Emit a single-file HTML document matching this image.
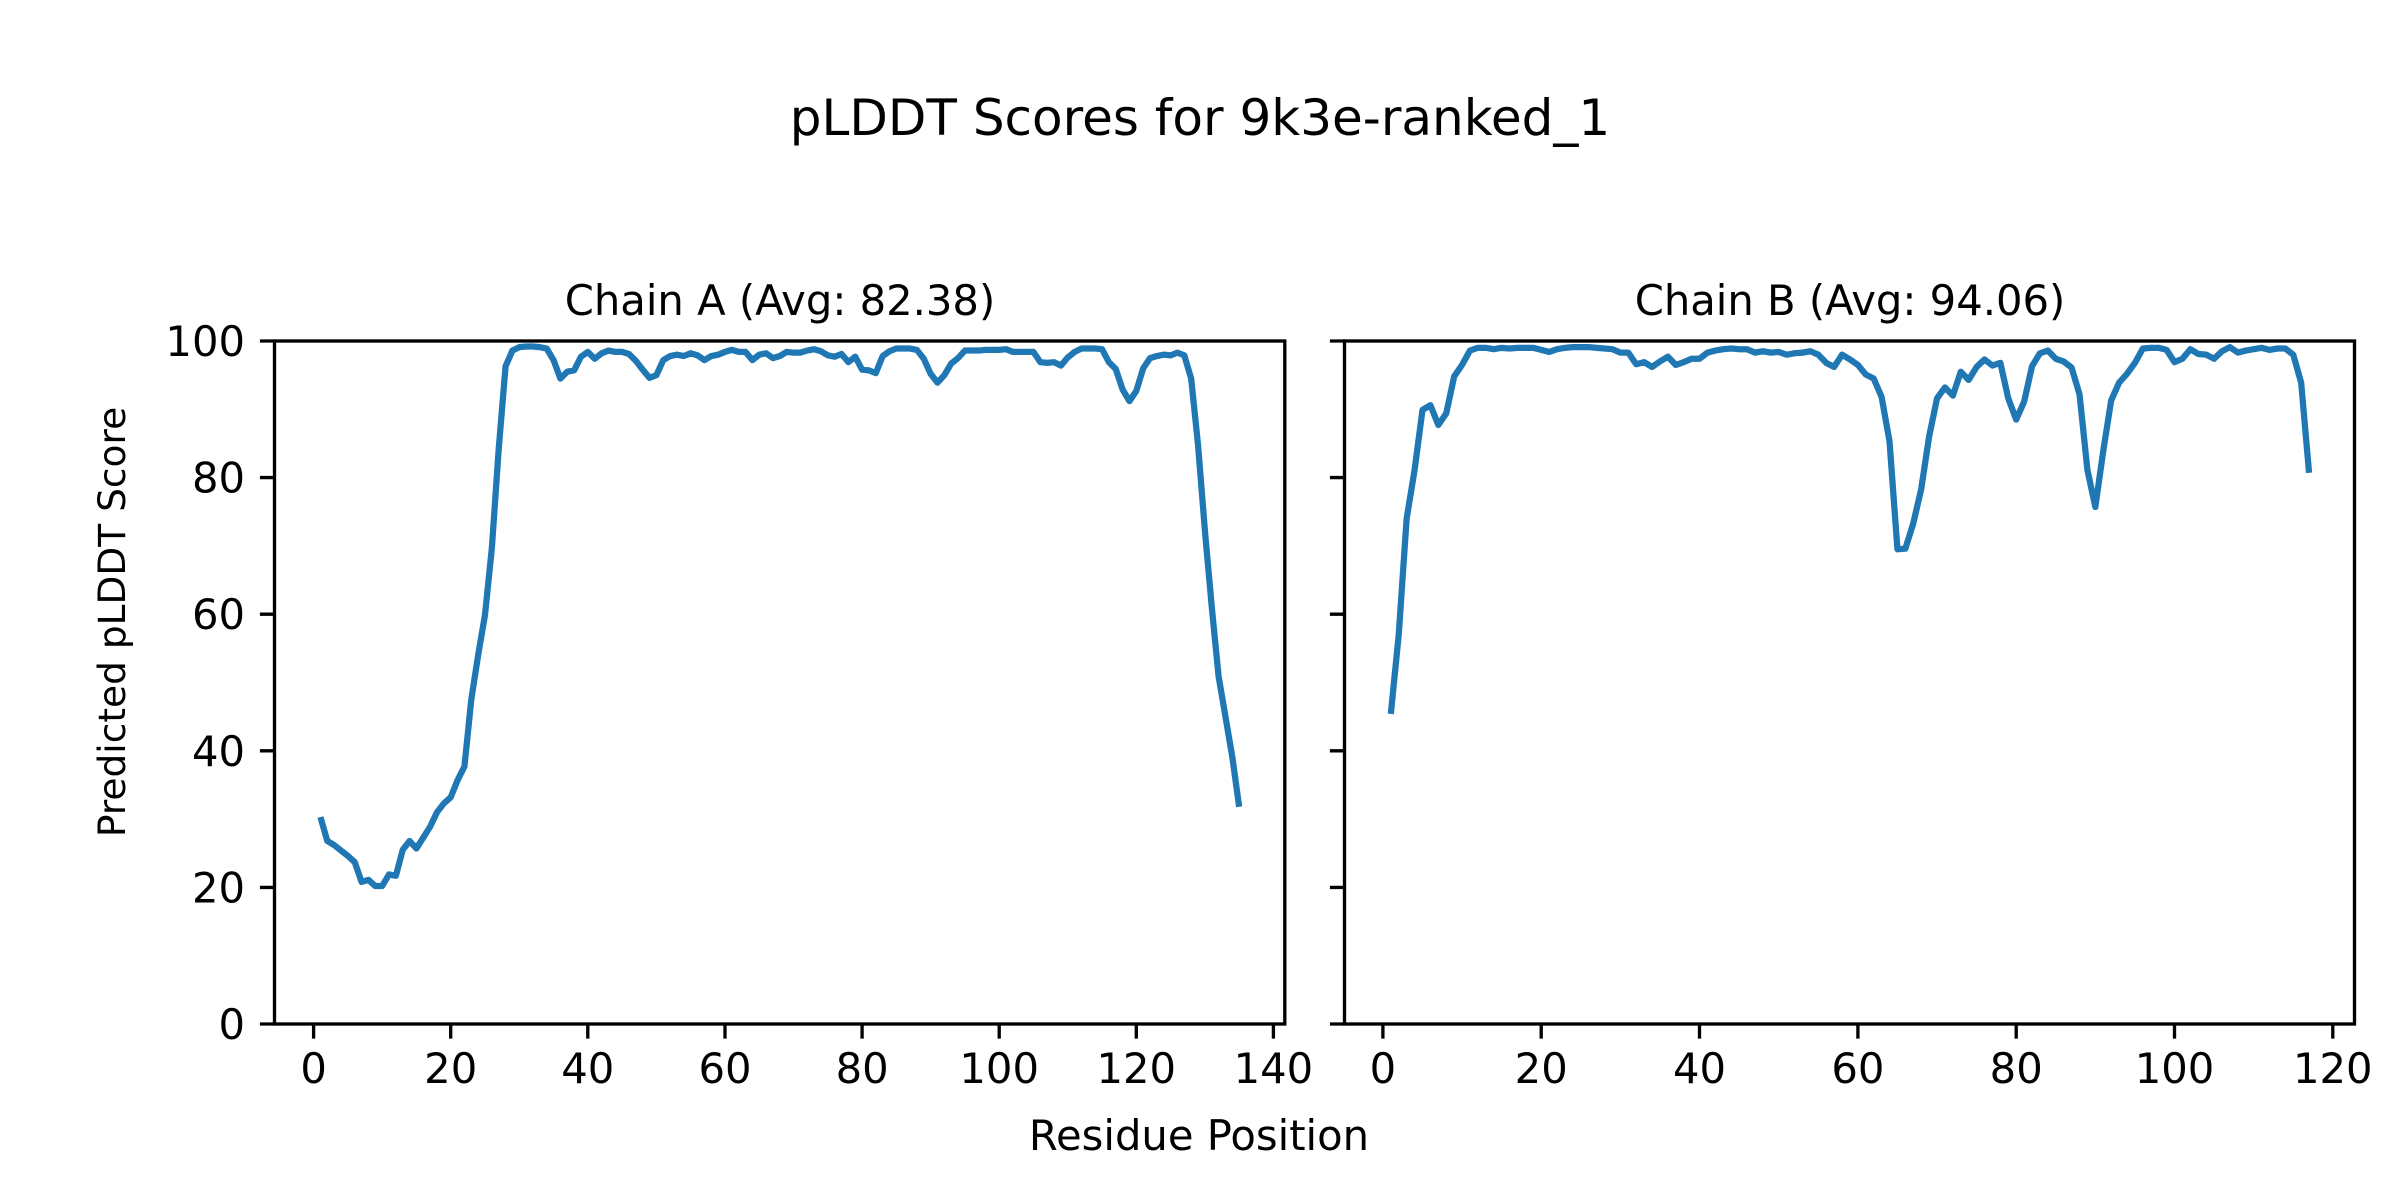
<!DOCTYPE html>
<html><head><meta charset="utf-8"><style>
html,body{margin:0;padding:0;background:#fff;}
svg{display:block;}
text{font-family:"DejaVu Sans","Liberation Sans",sans-serif;fill:#000;}
</style></head><body>
<svg width="2400" height="1200" viewBox="0 0 2400 1200" xmlns="http://www.w3.org/2000/svg">
<rect width="2400" height="1200" fill="#fff"/>
<text x="1200" y="135" font-size="50" text-anchor="middle">pLDDT Scores for 9k3e-ranked_1</text>
<text x="780" y="315" font-size="41.7" text-anchor="middle">Chain A (Avg: 82.38)</text>
<text x="1850" y="315" font-size="41.7" text-anchor="middle">Chain B (Avg: 94.06)</text>
<text x="1199" y="1150" font-size="41.7" text-anchor="middle">Residue Position</text>
<text transform="translate(125,622) rotate(-90)" font-size="37.5" text-anchor="middle">Predicted pLDDT Score</text>

<polyline fill="none" stroke="#1f77b4" stroke-width="6.25" stroke-linejoin="round" vector-effect="non-scaling-stroke"
transform="matrix(6.856 0 0 -6.83 313.6 1024)"
points="1,30.3 2,26.8 3,26.2 4,25.4 5,24.6 6,23.7 7,20.8 8,21.1 9,20.2 10,20.2 11,21.9 12,21.7 13,25.5 14,26.8 15,25.7 16,27.3 17,28.9 18,31.0 19,32.3 20,33.2 21,35.7 22,37.7 23,47.5 24,54.0 25,59.9 26,69.7 27,84.2 28,96.3 29,98.6 30,99.1 31,99.2 32,99.2 33,99.1 34,98.9 35,97.2 36,94.5 37,95.5 38,95.7 39,97.7 40,98.4 41,97.4 42,98.2 43,98.6 44,98.4 45,98.4 46,98.1 47,97.1 48,95.8 49,94.6 50,95.0 51,97.2 52,97.8 53,98.0 54,97.8 55,98.2 56,97.9 57,97.2 58,97.8 59,98.0 60,98.4 61,98.7 62,98.4 63,98.4 64,97.2 65,98.0 66,98.2 67,97.5 68,97.8 69,98.4 70,98.3 71,98.3 72,98.6 73,98.8 74,98.5 75,97.9 76,97.7 77,98.1 78,96.9 79,97.7 80,95.8 81,95.7 82,95.3 83,97.8 84,98.5 85,98.9 86,98.9 87,98.9 88,98.7 89,97.4 90,95.2 91,93.9 92,95.0 93,96.7 94,97.5 95,98.6 96,98.6 97,98.6 98,98.7 99,98.7 100,98.7 101,98.8 102,98.4 103,98.4 104,98.4 105,98.4 106,96.9 107,96.8 108,96.9 109,96.4 110,97.6 111,98.4 112,98.9 113,98.9 114,98.9 115,98.8 116,96.9 117,95.9 118,92.9 119,91.2 120,92.7 121,96.0 122,97.5 123,97.8 124,98.0 125,97.9 126,98.3 127,97.9 128,94.5 129,84.8 130,72.3 131,61.1 132,50.9 133,45.0 134,39.1 135,31.8"/>

<polyline fill="none" stroke="#1f77b4" stroke-width="6.25" stroke-linejoin="round" vector-effect="non-scaling-stroke"
transform="matrix(7.916 0 0 -6.83 1382.9 1024)"
points="1,45.4 2,57.0 3,74.0 4,81.1 5,89.9 6,90.6 7,87.7 8,89.4 9,94.8 10,96.5 11,98.6 12,99.0 13,99.0 14,98.8 15,99.0 16,98.9 17,99.0 18,99.0 19,99.0 20,98.7 21,98.4 22,98.8 23,99.0 24,99.1 25,99.1 26,99.1 27,99.0 28,98.9 29,98.8 30,98.3 31,98.3 32,96.6 33,96.9 34,96.2 35,97.0 36,97.7 37,96.5 38,96.9 39,97.4 40,97.4 41,98.3 42,98.6 43,98.8 44,98.9 45,98.8 46,98.8 47,98.3 48,98.5 49,98.3 50,98.4 51,98.0 52,98.2 53,98.3 54,98.5 55,98.0 56,96.8 57,96.2 58,98.0 59,97.3 60,96.5 61,95.1 62,94.5 63,91.8 64,85.3 65,69.5 66,69.6 67,73.3 68,78.3 69,86.0 70,91.6 71,93.2 72,92.0 73,95.5 74,94.3 75,96.2 76,97.3 77,96.4 78,96.8 79,91.6 80,88.5 81,91.1 82,96.3 83,98.2 84,98.6 85,97.4 86,97.0 87,96.1 88,92.2 89,81.1 90,75.7 91,83.9 92,91.3 93,93.9 94,95.2 95,96.8 96,98.9 97,99.0 98,99.0 99,98.7 100,96.9 101,97.4 102,98.8 103,98.1 104,98.0 105,97.4 106,98.5 107,99.1 108,98.3 109,98.6 110,98.8 111,99.0 112,98.7 113,98.9 114,98.9 115,98.0 116,93.9 117,80.7"/>

<g stroke="#000" stroke-width="3.33" fill="none">
<rect x="274.5" y="341" width="1010.3" height="683"/>
<rect x="1344.5" y="341" width="1010" height="683"/>
<path d="M274.5 1024h-14.6M274.5 887.4h-14.6M274.5 750.8h-14.6M274.5 614.2h-14.6M274.5 477.6h-14.6M274.5 341h-14.6"/>
<path d="M1344.5 1024h-14.6M1344.5 887.4h-14.6M1344.5 750.8h-14.6M1344.5 614.2h-14.6M1344.5 477.6h-14.6M1344.5 341h-14.6"/>
<path d="M313.6 1024v14.6M450.7 1024v14.6M587.8 1024v14.6M725 1024v14.6M862.1 1024v14.6M999.2 1024v14.6M1136.3 1024v14.6M1273.4 1024v14.6"/>
<path d="M1382.9 1024v14.6M1541.2 1024v14.6M1699.5 1024v14.6M1857.9 1024v14.6M2016.2 1024v14.6M2174.5 1024v14.6M2332.8 1024v14.6"/>
</g>
<g font-size="41.7" text-anchor="end">
<text x="245" y="1039">0</text>
<text x="245" y="902.4">20</text>
<text x="245" y="765.8">40</text>
<text x="245" y="629.2">60</text>
<text x="245" y="492.6">80</text>
<text x="245" y="356">100</text>
</g>
<g font-size="41.7" text-anchor="middle">
<text x="313.6" y="1083">0</text>
<text x="450.7" y="1083">20</text>
<text x="587.8" y="1083">40</text>
<text x="725" y="1083">60</text>
<text x="862.1" y="1083">80</text>
<text x="999.2" y="1083">100</text>
<text x="1136.3" y="1083">120</text>
<text x="1273.4" y="1083">140</text>
<text x="1382.9" y="1083">0</text>
<text x="1541.2" y="1083">20</text>
<text x="1699.5" y="1083">40</text>
<text x="1857.9" y="1083">60</text>
<text x="2016.2" y="1083">80</text>
<text x="2174.5" y="1083">100</text>
<text x="2332.8" y="1083">120</text>
</g>
</svg>
</body></html>
